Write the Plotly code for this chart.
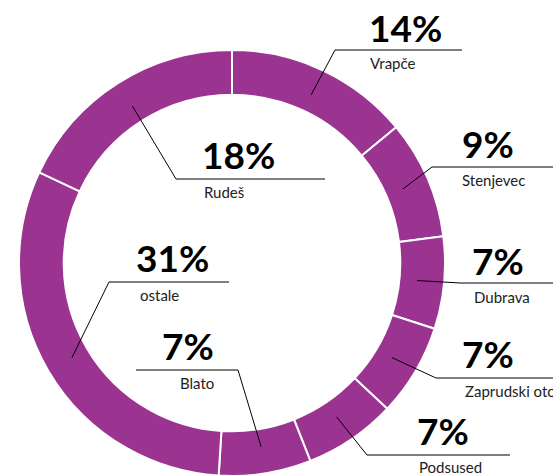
import math
import plotly.graph_objects as go

# ---- data ----
labels = ["Vrapče", "Stenjevec", "Dubrava", "Zaprudski otok", "Podsused", "Blato", "ostale", "Rudeš"]
values = [14, 9, 7, 7, 7, 7, 31, 18]

W, H = 553, 476
CX, CY, R = 232, 263, 213
PURPLE = "#9B3491"

def px(x):
    return x / W

def py(y):
    return 1 - y / H

# label layout (pixels): percent centre, label centre/anchor, kink, line end
pct_pos = [(405, 27), (488, 143), (498, 260), (488, 353), (443, 430), (188, 345), (172, 257), (238, 155)]
lab_pos = [(393, 63, "center"), (493, 180, "center"), (502, 297, "center"), (463, 391, "left"),
           (450, 467, "center"), (197, 383, "center"), (138, 295, "left"), (224, 192, "center")]
kinks = [(335, 50), (432, 167), (460, 283), (436, 378), (367, 455), (238, 370), (109, 282), (176, 179)]
ends = [(462, 50), (553, 167), (553, 283), (553, 378), (510, 455), (136, 370), (229, 282), (325, 179)]

fig = go.Figure(go.Pie(
    labels=labels, values=values, hole=0.79, sort=False, direction="clockwise", rotation=0,
    marker=dict(colors=[PURPLE] * len(values), line=dict(color="white", width=2)),
    textinfo="none", hoverinfo="label+percent",
    domain=dict(x=[px(CX - R), px(CX + R)], y=[py(CY + R), py(CY - R)]),
    showlegend=False,
))

total = sum(values)
cum = 0
shapes = []
annotations = []
for i, v in enumerate(values):
    mid = (cum + v / 2) / total * 2 * math.pi
    cum += v
    r0 = 186
    sx = CX + r0 * math.sin(mid)
    sy = CY - r0 * math.cos(mid)
    kx, ky = kinks[i]
    ex, ey = ends[i]
    path = f"M {px(sx)} {py(sy)} L {px(kx)} {py(ky)} L {px(ex)} {py(ey)}"
    shapes.append(dict(type="path", xref="paper", yref="paper", path=path,
                       line=dict(color="black", width=1)))
    annotations.append(dict(x=px(pct_pos[i][0]), y=py(pct_pos[i][1]), xref="paper", yref="paper",
                            text=f"{v}%", showarrow=False, xanchor="center", yanchor="middle",
                            font=dict(family="Lato", size=37, color="black", weight="bold")))
    lx, ly, anc = lab_pos[i]
    annotations.append(dict(x=px(lx), y=py(ly), xref="paper", yref="paper",
                            text=labels[i], showarrow=False, xanchor=anc, yanchor="middle",
                            font=dict(family="Lato", size=15, color="#222222")))

fig.update_layout(
    width=W, height=H,
    margin=dict(l=0, r=0, t=0, b=0),
    paper_bgcolor="white", plot_bgcolor="white",
    shapes=shapes, annotations=annotations,
)

fig.write_html(
    "out.html",
    config={"displayModeBar": False},
    post_script="document.body.style.margin='0';document.body.style.overflow='hidden';"
                "document.documentElement.style.overflow='hidden';",
)
